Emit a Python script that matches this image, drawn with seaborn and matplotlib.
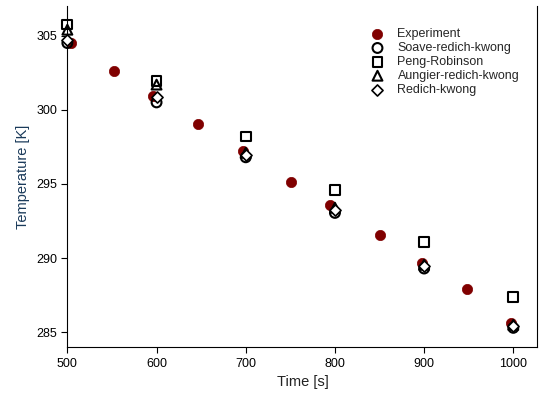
import numpy as np
import pandas as pd
import matplotlib
matplotlib.use("Agg")
import matplotlib.pyplot as plt
import seaborn as sns

# Experimental data
exp_time = [504, 552, 596, 647, 697, 751, 794, 850, 898, 948, 997]
exp_temp = [304.5, 302.6, 300.95, 299.05, 297.2, 295.1, 293.6, 291.55, 289.7, 287.9, 285.65]

# Model predictions
model_time = [500, 600, 700, 800, 900, 1000]
srk_temp = [304.5, 300.5, 296.8, 293.05, 289.3, 285.3]
pr_temp = [305.75, 301.95, 298.2, 294.6, 291.1, 287.4]
ark_temp = [305.4, 301.7, 297.1, 293.4, 289.55, 285.5]
rk_temp = [304.7, 300.85, 296.95, 293.25, 289.45, 285.45]

sns.set_theme(style="ticks")
plt.rcParams['font.family'] = ['Liberation Sans', 'DejaVu Sans']

fig, ax = plt.subplots(figsize=(5.39, 3.99), dpi=100)
fig.subplots_adjust(left=0.125, right=0.997, bottom=0.13, top=0.985)

sns.scatterplot(x=exp_time, y=exp_temp, ax=ax, color='#800000', marker='o',
                s=55, edgecolor='#800000', linewidth=0.5, label='Experiment', zorder=2,
                clip_on=False)
open_style = dict(facecolor='none', edgecolor='black', linewidth=1.5, s=50, zorder=3, clip_on=False)
sns.scatterplot(x=model_time, y=srk_temp, ax=ax, marker='o', label='Soave-redich-kwong', **open_style)
sns.scatterplot(x=model_time, y=pr_temp, ax=ax, marker='s', label='Peng-Robinson', **open_style)
sns.scatterplot(x=model_time, y=ark_temp, ax=ax, marker='^', label='Aungier-redich-kwong', **open_style)
sns.scatterplot(x=model_time, y=rk_temp, ax=ax, marker='D', label='Redich-kwong',
                facecolor='white', edgecolor='black', linewidth=1.2, s=32, zorder=4, clip_on=False)

ax.set_xlim(500, 1027)
ax.set_ylim(284, 307)
ax.set_xticks([500, 600, 700, 800, 900, 1000])
ax.set_yticks([285, 290, 295, 300, 305])
ax.tick_params(axis='both', labelsize=9, direction='out', length=4, width=0.8, colors='black')
ax.set_xlabel('Time [s]', fontsize=10.5, color='#222222')
ax.set_ylabel('Temperature [K]', fontsize=10.5, color='#1a3a5a')
for side in ['left', 'bottom', 'right']:
    ax.spines[side].set_linewidth(0.8)
    ax.spines[side].set_color('black')
ax.spines['top'].set_visible(False)
ax.tick_params(axis='y', right=False)

leg = ax.legend(loc='upper right', bbox_to_anchor=(0.98, 0.96), frameon=False, fontsize=9,
                handletextpad=0.6, labelspacing=0.15, borderaxespad=0.3)

fig.savefig('out.png', dpi=100)
